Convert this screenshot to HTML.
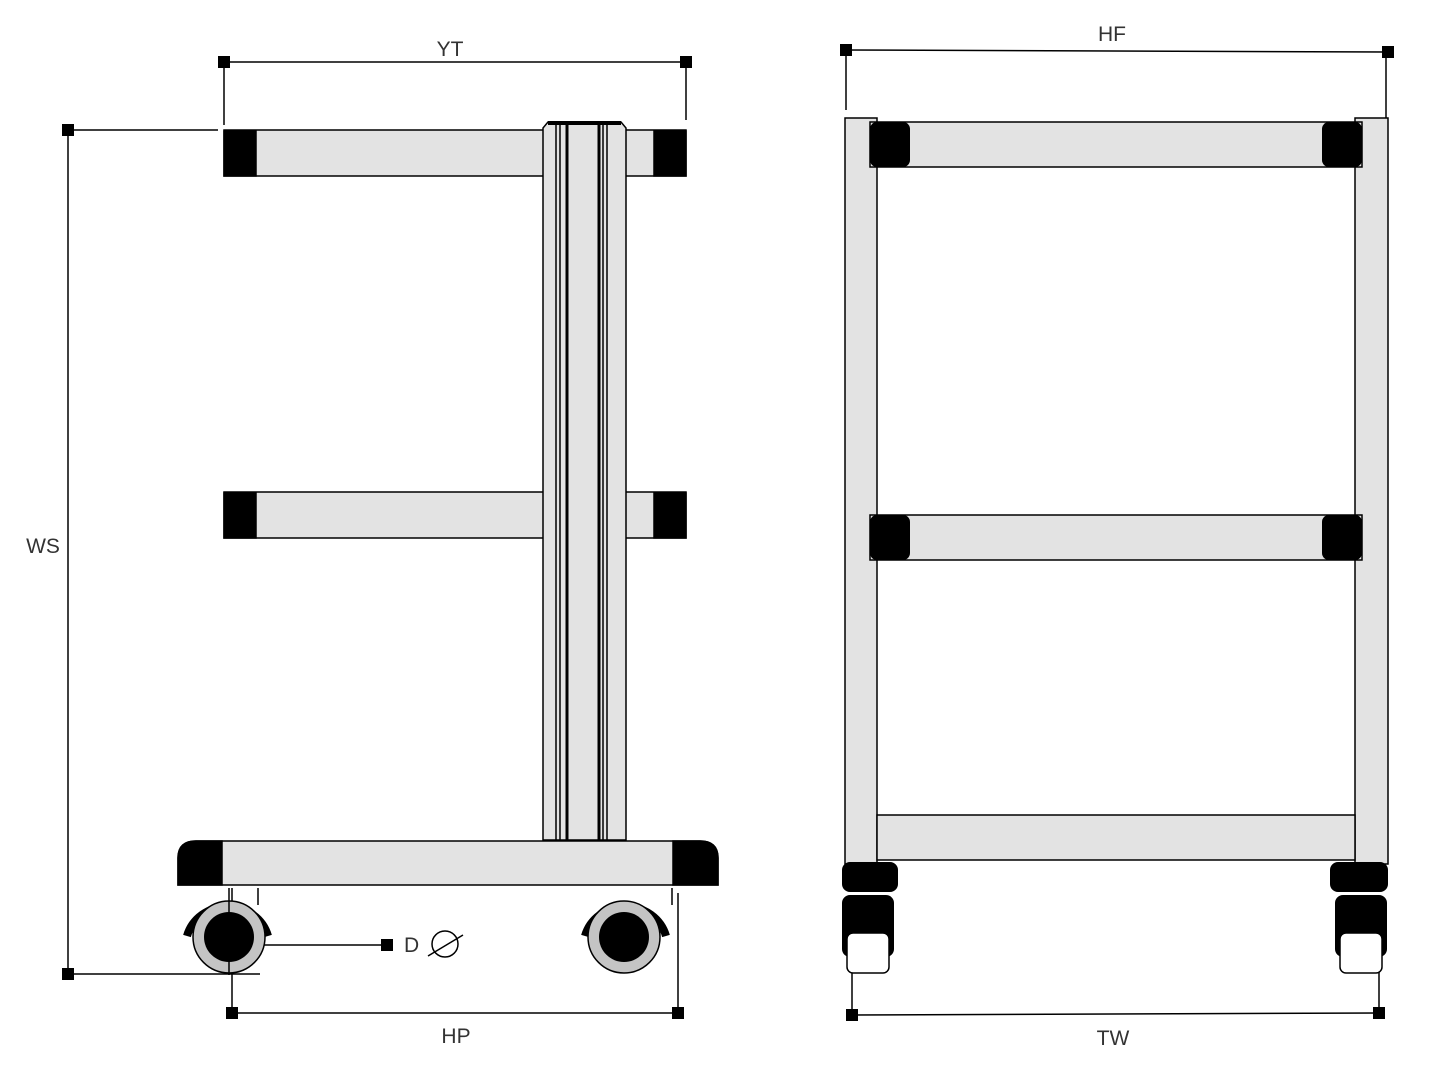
<!DOCTYPE html>
<html><head><style>body{margin:0;background:#fff}svg{display:block}text{font-family:"Liberation Sans",sans-serif;font-size:21px;fill:#333}</style></head><body>
<svg width="1445" height="1074" viewBox="0 0 1445 1074" xmlns="http://www.w3.org/2000/svg">
<g stroke="#000" stroke-width="1.5" fill="none">
<line x1="224" y1="62" x2="686" y2="62"/><line x1="224" y1="62" x2="224" y2="125"/><line x1="686" y1="62" x2="686" y2="120"/>
<line x1="68" y1="130" x2="68" y2="974"/><line x1="68" y1="130" x2="218" y2="130"/><line x1="68" y1="974" x2="260" y2="974"/>
<line x1="232" y1="1013" x2="678" y2="1013"/><line x1="232" y1="888" x2="232" y2="1013"/><line x1="678" y1="893" x2="678" y2="1013"/>
<line x1="258" y1="888" x2="258" y2="905"/><line x1="672" y1="888" x2="672" y2="905"/>
<line x1="262" y1="945" x2="387" y2="945"/>
<circle cx="445" cy="944" r="13"/><line x1="428" y1="956" x2="463" y2="935"/>
<line x1="846" y1="50" x2="1388" y2="52"/><line x1="846" y1="50" x2="846" y2="110"/><line x1="1386" y1="52" x2="1386" y2="118"/>
<line x1="852" y1="1015" x2="1379" y2="1013"/><line x1="852" y1="930" x2="852" y2="1015"/><line x1="1379" y1="930" x2="1379" y2="1013"/>
</g>
<g fill="#000">
<rect x="218" y="56" width="12" height="12"/><rect x="680" y="56" width="12" height="12"/>
<rect x="62" y="124" width="12" height="12"/><rect x="62" y="968" width="12" height="12"/>
<rect x="226" y="1007" width="12" height="12"/><rect x="672" y="1007" width="12" height="12"/>
<rect x="381" y="939" width="12" height="12"/>
<rect x="840" y="44" width="12" height="12"/><rect x="1382" y="46" width="12" height="12"/>
<rect x="846" y="1009" width="12" height="12"/><rect x="1373" y="1007" width="12" height="12"/>
</g>
<g stroke="#000" stroke-width="1.5">
<rect x="224" y="130" width="462" height="46" fill="#e3e3e3"/>
<rect x="224" y="492" width="462" height="46" fill="#e3e3e3"/>
<rect x="224" y="131" width="32" height="45" fill="#000"/><rect x="654" y="131" width="32" height="45" fill="#000"/>
<rect x="224" y="493" width="32" height="45" fill="#000"/><rect x="654" y="493" width="32" height="45" fill="#000"/>
<path d="M543 840 V128 L548 122 H621 L626 128 V840 Z" fill="#e3e3e3"/>
<path d="M548 123 H621" stroke-width="4"/>
<line x1="556" y1="124" x2="556" y2="840"/><line x1="560" y1="124" x2="560" y2="840"/>
<line x1="567" y1="124" x2="567" y2="840" stroke-width="3"/><line x1="599" y1="124" x2="599" y2="840" stroke-width="3"/>
<line x1="603" y1="124" x2="603" y2="840"/><line x1="607" y1="124" x2="607" y2="840"/>
<path d="M178 885 V858 Q178 841 196 841 H700 Q718 841 718 858 V885 Z" fill="#e3e3e3"/>
<path d="M178 885 V858 Q178 841 196 841 H222 V885 Z" fill="#000"/>
<path d="M718 885 V858 Q718 841 700 841 H673 V885 Z" fill="#000"/>
</g>
<g>
<path d="M187 936 A42 40 0 0 1 268 936" fill="none" stroke="#000" stroke-width="8"/>
<circle cx="229" cy="937" r="36" fill="#c4c4c4" stroke="#000" stroke-width="1.5"/>
<circle cx="229" cy="937" r="25" fill="#000"/>
<path d="M585 936 A42 40 0 0 1 666 936" fill="none" stroke="#000" stroke-width="8"/>
<circle cx="624" cy="937" r="36" fill="#c4c4c4" stroke="#000" stroke-width="1.5"/>
<circle cx="624" cy="937" r="25" fill="#000"/>
<line x1="229" y1="888" x2="229" y2="975" stroke="#000" stroke-width="1.5"/>
</g>
<g stroke="#000" stroke-width="1.5">
<rect x="845" y="118" width="32" height="746" fill="#e3e3e3"/>
<rect x="1355" y="118" width="33" height="746" fill="#e3e3e3"/>
<rect x="877" y="815" width="478" height="45" fill="#e3e3e3"/>
<rect x="870" y="122" width="492" height="45" fill="#e3e3e3"/>
<rect x="870" y="515" width="492" height="45" fill="#e3e3e3"/>
</g>
<g fill="#000">
<rect x="870" y="122" width="40" height="45" rx="7"/><rect x="1322" y="122" width="40" height="45" rx="7"/>
<rect x="870" y="515" width="40" height="45" rx="7"/><rect x="1322" y="515" width="40" height="45" rx="7"/>
<rect x="842" y="862" width="56" height="30" rx="8"/><rect x="1330" y="862" width="58" height="30" rx="8"/>
<rect x="842" y="895" width="52" height="62" rx="8"/><rect x="1335" y="895" width="52" height="62" rx="8"/>
</g>
<g fill="#fff" stroke="#000" stroke-width="1.5">
<rect x="847" y="933" width="42" height="40" rx="6"/><rect x="1340" y="933" width="42" height="40" rx="6"/>
</g>
<text x="450" y="56" text-anchor="middle">YT</text>
<text x="43" y="553" text-anchor="middle">WS</text>
<text x="456" y="1043" text-anchor="middle">HP</text>
<text x="404" y="952">D</text>
<text x="1112" y="41" text-anchor="middle">HF</text>
<text x="1113" y="1045" text-anchor="middle">TW</text>
</svg>
</body></html>
